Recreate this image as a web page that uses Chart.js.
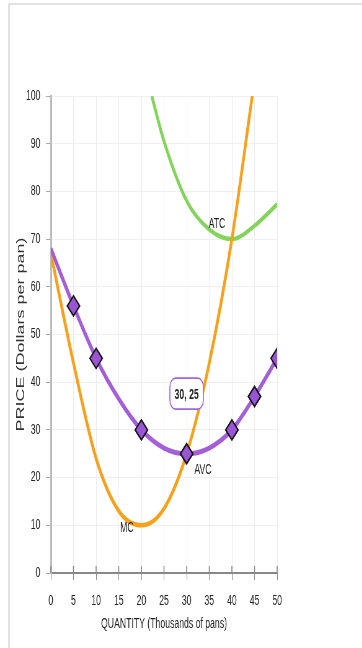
<!DOCTYPE html>
<html>
<head>
<meta charset="utf-8">
<script src="https://cdn.jsdelivr.net/npm/chart.js@4"></script>
<style>
    html, body { margin: 0; padding: 0; background: #fff; }
    body { width: 362px; height: 648px; overflow: hidden; position: relative; }
    #frame { position: absolute; left: 8px; top: 3px; right: 0; bottom: 0; border-left: 2px solid #e2e2e2; border-top: 2px solid #e2e2e2; }
    /* the original picture is squeezed sideways, so draw wide and squeeze it */
    #chart { position: absolute; left: 0; top: 0; transform: scaleX(0.62); transform-origin: 0 0; }
</style>
</head>
<body>
<div id="frame"></div>
<canvas id="chart" width="584" height="648"></canvas>
<script>
// Data
const xTicks = [0, 5, 10, 15, 20, 25, 30, 35, 40, 45, 50];
const yTicks = [0, 10, 20, 30, 40, 50, 60, 70, 80, 90, 100];

const mcQty = [0, 5, 10, 15, 20, 25, 30, 35, 40, 44.5];
const mcPrice = [67, 44, 24, 13, 10, 13.5, 25, 44, 70, 100];

const avcQty = [0, 5, 10, 15, 20, 25, 30, 35, 40, 45, 50];
const avcPrice = [68, 56, 45, 36.5, 30, 26.2, 25, 26.2, 30, 37, 45];
const avcMarked = [false, true, true, false, true, false, true, false, true, true, true];

const atcQty = [22.3, 25, 30, 35, 40, 45, 50];
const atcPrice = [100, 90.5, 78, 72, 70, 72.8, 77.3];

const curveLabels = ["MC", "AVC", "ATC"];
const labelQty = [16.8, 33.6, 36.7];
const labelPrice = [9.5, 21.6, 73.2];

const calloutQty = 30;
const calloutPrice = 37.6;
const calloutText = avcQty[6] + ", " + avcPrice[6];

const FONT = '"Liberation Sans", Arial, sans-serif';
Chart.defaults.font.family = FONT;

const toPoints = (qs, ps) => qs.map((q, i) => ({ x: q, y: ps[i] }));

// curve names, callout box and the inner half of the x tick marks
const annotations = {
    id: "annotations",
    beforeDatasetsDraw(chart) {
        const { ctx, scales: { x, y } } = chart;
        ctx.save();
        ctx.strokeStyle = "#888";
        ctx.lineWidth = 1.6;
        const y0 = y.getPixelForValue(0);
        xTicks.forEach(v => {
            const px = x.getPixelForValue(v);
            ctx.beginPath();
            ctx.moveTo(px, y0);
            ctx.lineTo(px, y0 - 7);
            ctx.stroke();
        });
        ctx.restore();
    },
    afterDatasetsDraw(chart) {
        const { ctx, scales: { x, y } } = chart;
        ctx.save();
        ctx.font = "14px " + FONT;
        ctx.fillStyle = "#222";
        ctx.textAlign = "center";
        ctx.textBaseline = "middle";
        curveLabels.forEach((t, i) => {
            ctx.fillText(t, x.getPixelForValue(labelQty[i]), y.getPixelForValue(labelPrice[i]));
        });

        const cx = x.getPixelForValue(calloutQty);
        const cy = y.getPixelForValue(calloutPrice);
        ctx.beginPath();
        ctx.roundRect(cx - 27, cy - 15.5, 54, 31, 9);
        ctx.fillStyle = "#fff";
        ctx.fill();
        ctx.strokeStyle = "#a366d8";
        ctx.lineWidth = 1.6;
        ctx.stroke();
        ctx.font = "bold 14px " + FONT;
        ctx.fillStyle = "#222";
        ctx.fillText(calloutText, cx, cy + 1);
        ctx.restore();
    }
};

new Chart(document.getElementById("chart"), {
    type: "line",
    data: {
        datasets: [
            {
                label: "AVC",
                data: toPoints(avcQty, avcPrice),
                borderColor: "#a35ed8",
                borderWidth: 5,
                cubicInterpolationMode: "monotone",
                pointStyle: "rectRot",
                pointRadius: avcMarked.map(m => m ? 10 : 0),
                pointBackgroundColor: "#9a55d4",
                pointBorderColor: "#111",
                pointBorderWidth: 2
            },
            {
                label: "MC",
                data: toPoints(mcQty, mcPrice),
                borderColor: "#f7a01a",
                borderWidth: 4.5,
                cubicInterpolationMode: "monotone",
                pointRadius: 0
            },
            {
                label: "ATC",
                data: toPoints(atcQty, atcPrice),
                borderColor: "#82d45a",
                borderWidth: 4.5,
                cubicInterpolationMode: "monotone",
                pointRadius: 0
            }
        ]
    },
    options: {
        responsive: false,
        devicePixelRatio: 1,
        animation: false,
        layout: { padding: { left: 0, top: 96, right: 137, bottom: 0 } },
        plugins: {
            legend: { display: false },
            tooltip: { enabled: false }
        },
        scales: {
            x: {
                type: "linear",
                min: 0,
                max: 50,
                afterBuildTicks: s => { s.ticks = xTicks.map(v => ({ value: v })); },
                afterFit: s => { s.height = 75; },
                grid: { color: "#ececec", lineWidth: 1, tickColor: "#888", tickLength: 7 },
                border: { color: "#888", width: 2 },
                ticks: { color: "#222", font: { size: 14 }, padding: 13, maxRotation: 0 },
                title: {
                    display: true,
                    text: "QUANTITY (Thousands of pans)",
                    color: "#222",
                    font: { size: 14 },
                    padding: { top: 0, bottom: 15 }
                }
            },
            y: {
                min: 0,
                max: 100,
                afterBuildTicks: s => { s.ticks = yTicks.map(v => ({ value: v })); },
                afterFit: s => { s.width = 82; },
                grid: { color: "#efefef", lineWidth: 1, tickColor: "#aaa", tickLength: 8 },
                border: { color: "#bbb", width: 3 },
                ticks: { color: "#222", font: { size: 14 }, padding: 9 },
                title: {
                    display: true,
                    text: "PRICE (Dollars per pan)",
                    color: "#333",
                    font: { size: 18 },
                    padding: { top: 23, bottom: 0 }
                }
            }
        }
    },
    plugins: [annotations]
});
</script>
</body>
</html>
